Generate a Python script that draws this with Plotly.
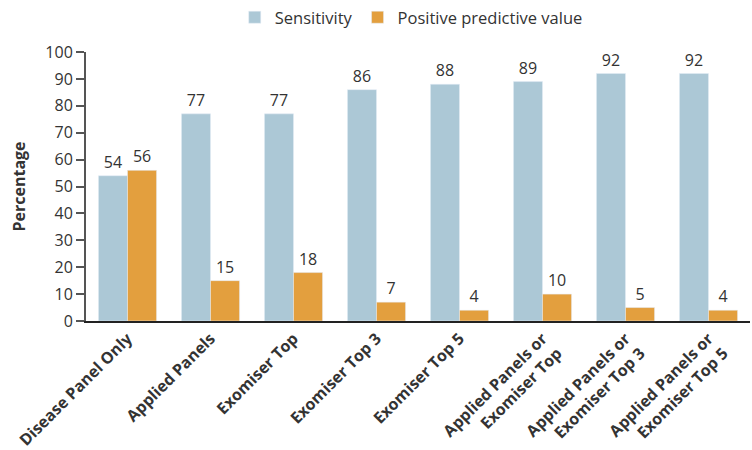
import plotly.graph_objects as go

categories = ["Disease Panel Only", "Applied Panels", "Exomiser Top", "Exomiser Top 3",
              "Exomiser Top 5", "Applied Panels or<br>Exomiser Top",
              "Applied Panels or<br>Exomiser Top 3", "Applied Panels or<br>Exomiser Top 5"]
sensitivity = [54, 77, 77, 86, 88, 89, 92, 92]
ppv = [56, 15, 18, 7, 4, 10, 5, 4]
y_ticks = [0, 10, 20, 30, 40, 50, 60, 70, 80, 90, 100]

font_family = "Open Sans"
text_color = "#333333"

fig = go.Figure()
fig.add_trace(go.Bar(name="Sensitivity", x=categories, y=sensitivity,
                     marker_color="#ACC8D6", text=sensitivity, textposition="outside",
                     textfont=dict(size=16, color=text_color, family=font_family),
                     cliponaxis=False))
fig.add_trace(go.Bar(name="Positive predictive value", x=categories, y=ppv,
                     marker_color="#E39F3E", text=ppv, textposition="outside",
                     textfont=dict(size=16, color=text_color, family=font_family),
                     cliponaxis=False))

fig.update_layout(
    width=752, height=450,
    margin=dict(l=86, r=2, t=52, b=129, autoexpand=False),
    barmode="group", bargap=0.30, bargroupgap=0,
    plot_bgcolor="white", paper_bgcolor="white",
    font=dict(family=font_family, color=text_color),
    legend=dict(orientation="h", x=0.224, xanchor="left", y=1.0, yanchor="top",
                yref="container", font=dict(size=16.5, color=text_color),
                traceorder="normal", itemwidth=30),
    showlegend=True,
)
fig.update_xaxes(showline=True, linecolor="#222222", linewidth=2, tickangle=-45,
                 ticks="", automargin=False,
                 tickfont=dict(size=16, color=text_color, family=font_family, weight="bold"),
                 range=[-0.5, 7.5])
fig.update_yaxes(range=[0, 100], tickvals=y_ticks, showline=True, linecolor="#555555",
                 linewidth=2, ticks="outside", ticklen=8, tickwidth=1.5, tickcolor="#555555",
                 showgrid=False, zeroline=False, automargin=False,
                 tickfont=dict(size=16, color=text_color, family=font_family),
                 title=dict(text="<b>Percentage</b>", font=dict(size=16, color=text_color), standoff=16))

fig.write_html("out.html", config={"displayModeBar": False},
               post_script="document.body.style.margin='0px';")
